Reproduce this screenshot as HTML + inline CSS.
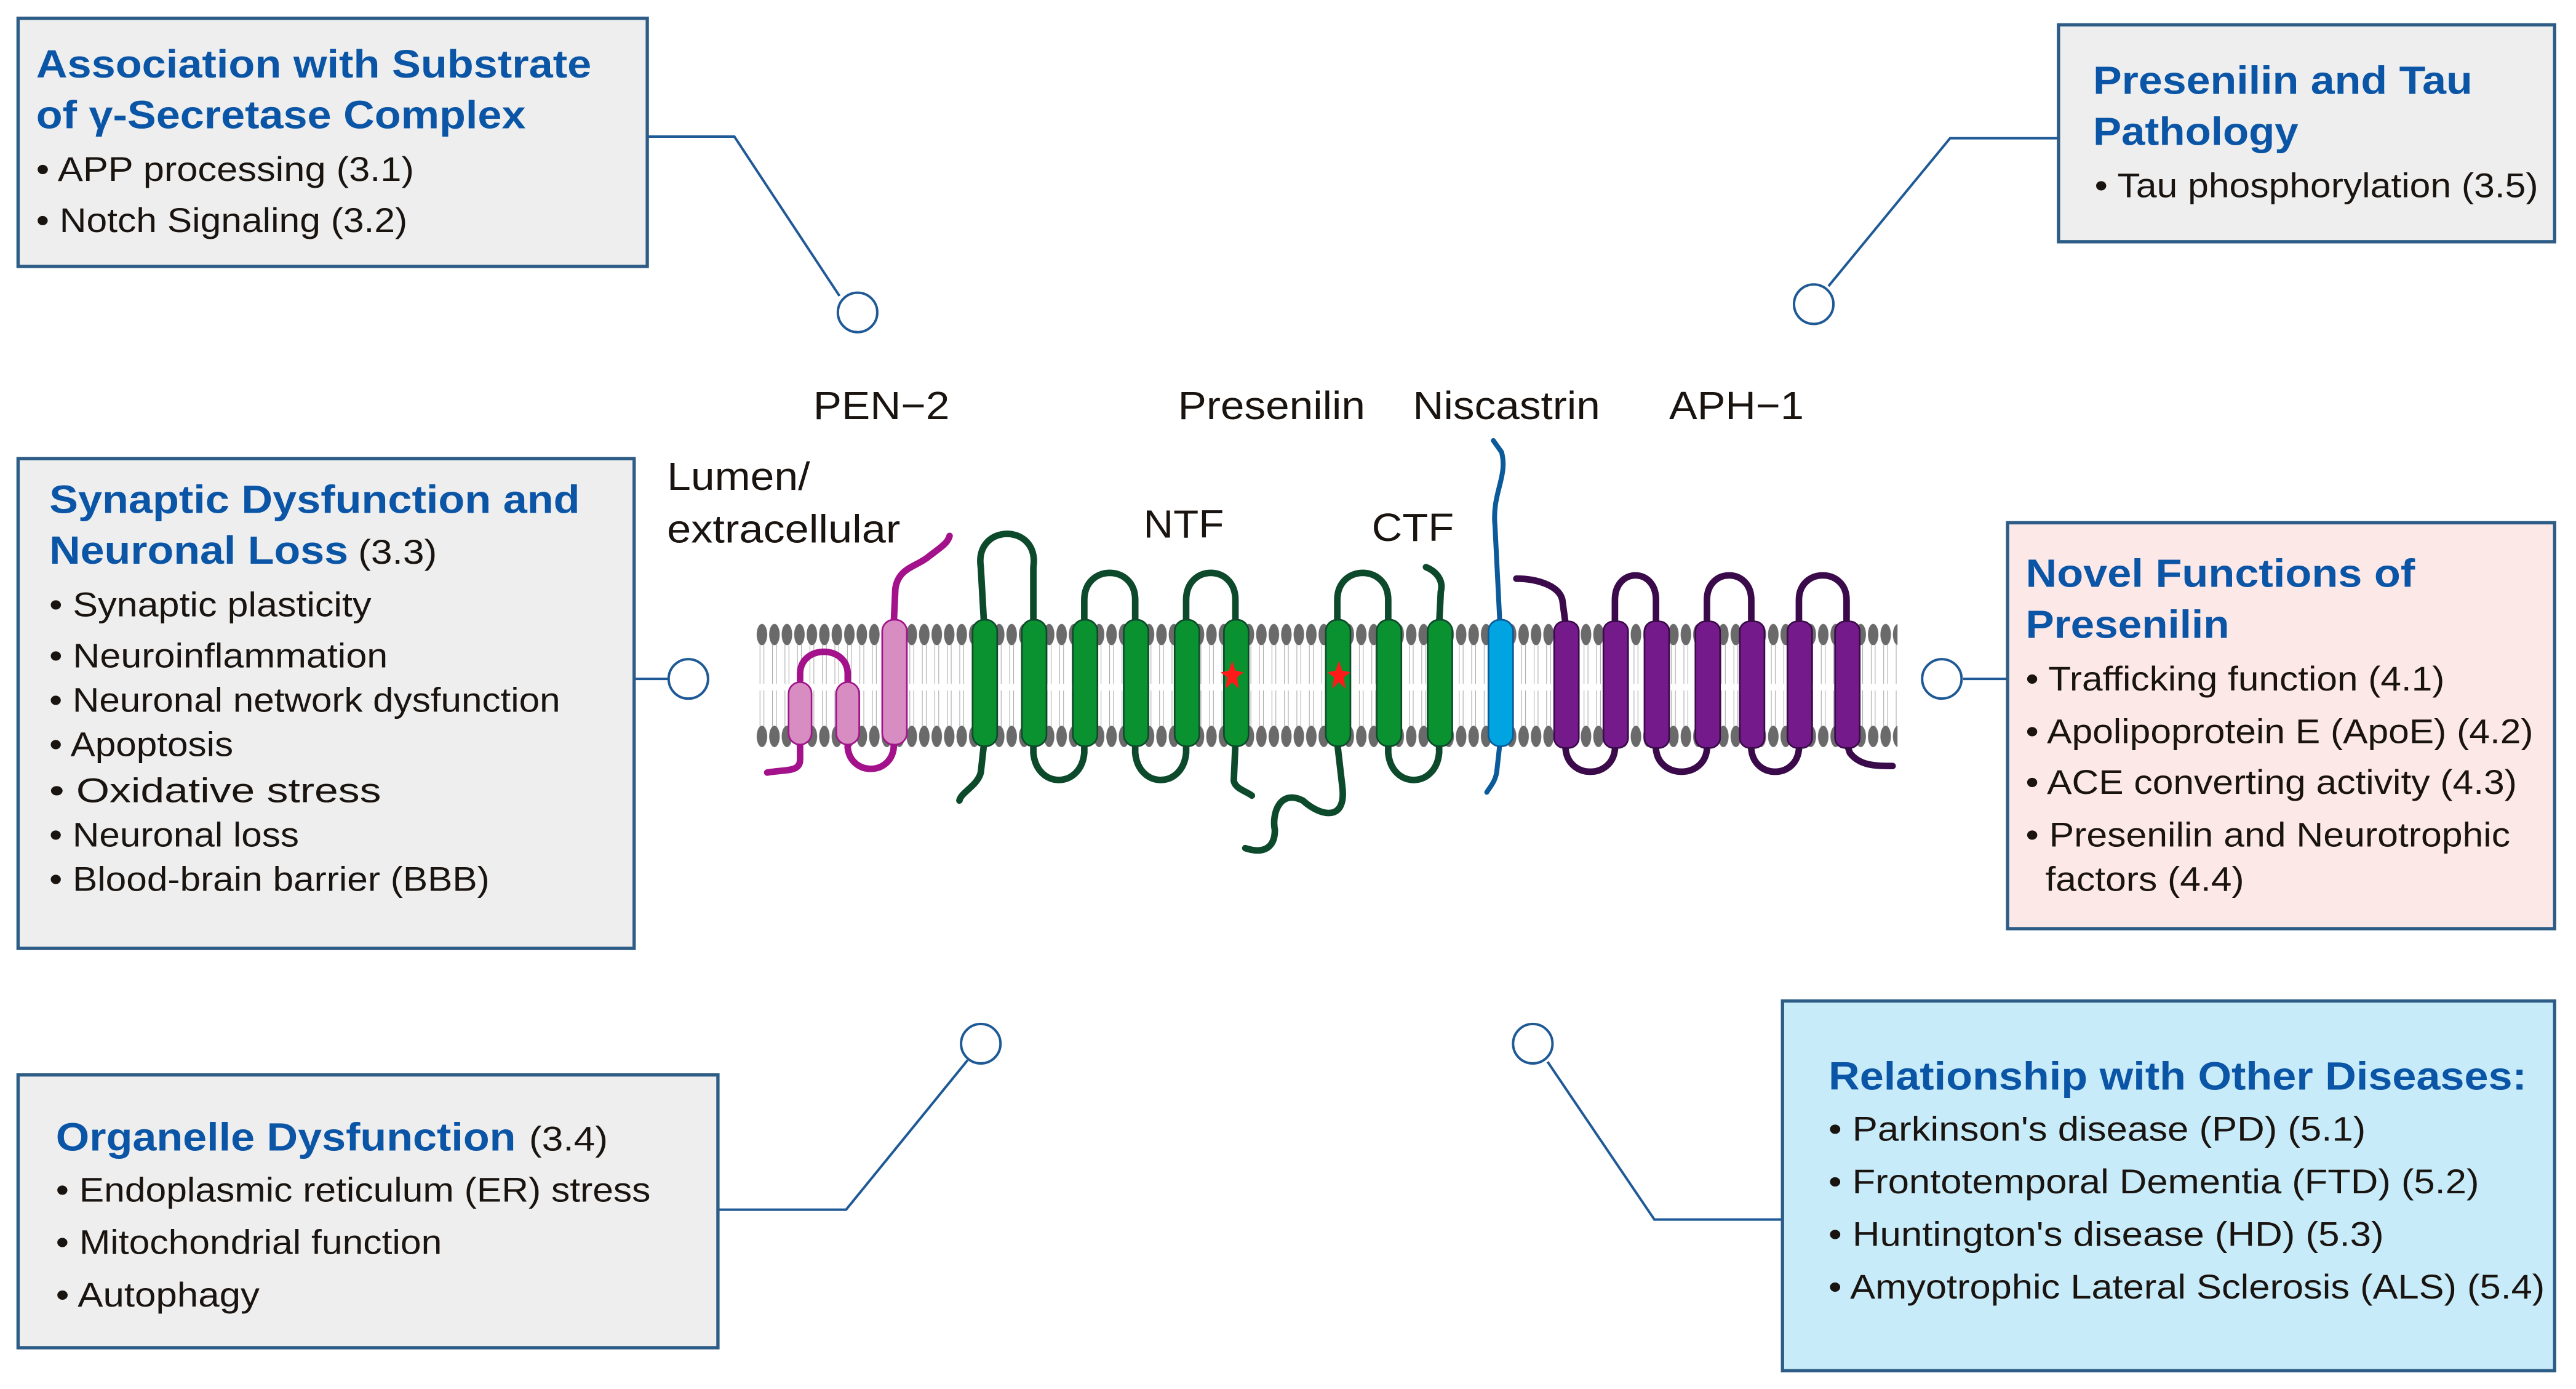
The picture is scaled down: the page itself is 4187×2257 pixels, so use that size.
<!DOCTYPE html>
<html><head><meta charset="utf-8"><style>html,body{margin:0;padding:0;background:#fff}svg{display:block}</style></head>
<body>
<svg width="4187" height="2257" viewBox="0 0 1568 845" xmlns="http://www.w3.org/2000/svg" font-family="'Liberation Sans', sans-serif">
<defs>
<pattern id="mem" patternUnits="userSpaceOnUse" x="460" y="378" width="7.6" height="80">
<ellipse cx="3.8" cy="8" rx="3.2" ry="6.5" fill="#6a6a6a"/>
<ellipse cx="3.8" cy="70" rx="3.2" ry="6.5" fill="#6a6a6a"/>
<path d="M2.6 14 L2.6 38 M5 14 L5 38 M2.6 42 L2.6 64 M5 42 L5 64" stroke="#a8a8a8" stroke-width="0.4" fill="none"/>
</pattern>
</defs>
<rect width="1568" height="845" fill="#fff"/>

<!-- connectors -->
<g stroke="#1f5a96" stroke-width="1.5" fill="none">
<polyline points="394,83 447,83 511,180"/>
<circle cx="522" cy="190" r="12" fill="#fff"/>
<polyline points="1253,84 1187,84 1113,174"/>
<circle cx="1104" cy="185" r="12" fill="#fff"/>
<line x1="386" y1="413" x2="407" y2="413"/>
<circle cx="419" cy="413" r="12" fill="#fff"/>
<line x1="1195" y1="413" x2="1222" y2="413"/>
<circle cx="1182" cy="413" r="12" fill="#fff"/>
<polyline points="437,736 515,736 589,645"/>
<circle cx="597" cy="635" r="12" fill="#fff"/>
<polyline points="1085,742 1007,742 942,646"/>
<circle cx="933" cy="635" r="12" fill="#fff"/>
</g>

<!-- boxes -->
<g stroke="#2d5c86" stroke-width="2">
<rect x="11" y="11" width="383" height="151" fill="#eeeeee"/>
<rect x="1253" y="15" width="302" height="132" fill="#eeeeee"/>
<rect x="11" y="279" width="375" height="298" fill="#eeeeee"/>
<rect x="1222" y="318" width="333" height="247" fill="#fde8e8"/>
<rect x="11" y="654" width="426" height="166" fill="#eeeeee"/>
<rect x="1085" y="609" width="470" height="225" fill="#c8ebfa"/>
</g>

<g fill="#0b55a6" font-weight="bold" font-size="24" lengthAdjust="spacingAndGlyphs">
<text x="22" y="47" textLength="338" lengthAdjust="spacingAndGlyphs">Association with Substrate</text>
<text x="22" y="78" textLength="298" lengthAdjust="spacingAndGlyphs">of γ-Secretase Complex</text>
<text x="1274" y="57" textLength="231" lengthAdjust="spacingAndGlyphs">Presenilin and Tau</text>
<text x="1274" y="88" textLength="125" lengthAdjust="spacingAndGlyphs">Pathology</text>
<text x="30" y="312" textLength="323" lengthAdjust="spacingAndGlyphs">Synaptic Dysfunction and</text>
<text x="30" y="343" textLength="182" lengthAdjust="spacingAndGlyphs">Neuronal Loss</text>
<text x="1233" y="357" textLength="237" lengthAdjust="spacingAndGlyphs">Novel Functions of</text>
<text x="1233" y="388" textLength="124" lengthAdjust="spacingAndGlyphs">Presenilin</text>
<text x="34" y="700" textLength="280" lengthAdjust="spacingAndGlyphs">Organelle Dysfunction</text>
<text x="1113" y="663" textLength="425" lengthAdjust="spacingAndGlyphs">Relationship with Other Diseases:</text>
</g>

<g fill="#1a1410" font-size="21">
<text x="218" y="343" textLength="48" lengthAdjust="spacingAndGlyphs">(3.3)</text>
<text x="322" y="700" textLength="48" lengthAdjust="spacingAndGlyphs">(3.4)</text>
<text x="22" y="110" textLength="230" lengthAdjust="spacingAndGlyphs">• APP processing (3.1)</text>
<text x="22" y="141" textLength="226" lengthAdjust="spacingAndGlyphs">• Notch Signaling (3.2)</text>
<text x="1275" y="120" textLength="270" lengthAdjust="spacingAndGlyphs">• Tau phosphorylation (3.5)</text>
<text x="30" y="375" textLength="196" lengthAdjust="spacingAndGlyphs">• Synaptic plasticity</text>
<text x="30" y="406" textLength="206" lengthAdjust="spacingAndGlyphs">• Neuroinflammation</text>
<text x="30" y="433" textLength="311" lengthAdjust="spacingAndGlyphs">• Neuronal network dysfunction</text>
<text x="30" y="460" textLength="112" lengthAdjust="spacingAndGlyphs">• Apoptosis</text>
<text x="30" y="488" textLength="202" lengthAdjust="spacingAndGlyphs">• Oxidative stress</text>
<text x="30" y="515" textLength="152" lengthAdjust="spacingAndGlyphs">• Neuronal loss</text>
<text x="30" y="542" textLength="268" lengthAdjust="spacingAndGlyphs">• Blood-brain barrier (BBB)</text>
<text x="1233" y="420" textLength="255" lengthAdjust="spacingAndGlyphs">• Trafficking function (4.1)</text>
<text x="1233" y="452" textLength="309" lengthAdjust="spacingAndGlyphs">• Apolipoprotein E (ApoE) (4.2)</text>
<text x="1233" y="483" textLength="299" lengthAdjust="spacingAndGlyphs">• ACE converting activity (4.3)</text>
<text x="1233" y="515" textLength="295" lengthAdjust="spacingAndGlyphs">• Presenilin and Neurotrophic</text>
<text x="1245" y="542" textLength="121" lengthAdjust="spacingAndGlyphs">factors (4.4)</text>
<text x="34" y="731" textLength="362" lengthAdjust="spacingAndGlyphs">• Endoplasmic reticulum (ER) stress</text>
<text x="34" y="763" textLength="235" lengthAdjust="spacingAndGlyphs">• Mitochondrial function</text>
<text x="34" y="795" textLength="124" lengthAdjust="spacingAndGlyphs">• Autophagy</text>
<text x="1113" y="694" textLength="327" lengthAdjust="spacingAndGlyphs">•  Parkinson's disease (PD) (5.1)</text>
<text x="1113" y="726" textLength="396" lengthAdjust="spacingAndGlyphs">•  Frontotemporal Dementia (FTD) (5.2)</text>
<text x="1113" y="758" textLength="338" lengthAdjust="spacingAndGlyphs">•  Huntington's disease (HD) (5.3)</text>
<text x="1113" y="790" textLength="436" lengthAdjust="spacingAndGlyphs">•  Amyotrophic Lateral Sclerosis (ALS) (5.4)</text>
</g>

<g fill="#1a1410" font-size="24">
<text x="495" y="255" textLength="83" lengthAdjust="spacingAndGlyphs">PEN−2</text>
<text x="717" y="255" textLength="114" lengthAdjust="spacingAndGlyphs">Presenilin</text>
<text x="860" y="255" textLength="114" lengthAdjust="spacingAndGlyphs">Niscastrin</text>
<text x="1016" y="255" textLength="82" lengthAdjust="spacingAndGlyphs">APH−1</text>
<text x="406" y="298" textLength="87" lengthAdjust="spacingAndGlyphs">Lumen/</text>
<text x="406" y="330" textLength="142" lengthAdjust="spacingAndGlyphs">extracellular</text>
<text x="696" y="327" textLength="49" lengthAdjust="spacingAndGlyphs">NTF</text>
<text x="835" y="329" textLength="50" lengthAdjust="spacingAndGlyphs">CTF</text>
</g>

<!-- membrane -->
<rect x="460" y="378" width="695" height="80" fill="url(#mem)"/>

<!-- loops -->
<g fill="none" stroke-linecap="round" stroke-width="4">
<g stroke="#a3128a">
<path d="M487 420 L487 410 C487 392 516 392 516 410 L516 420"/>
<path d="M487 452 L487 462 C487 470 478 468 467 470"/>
<path d="M516 452 L516 455 C518 472 542 472 544 455 L544 452"/>
<path d="M544 380 L545 358 C547 345 558 345 566 338 C574 332 577 330 578 326"/>
</g>
<g stroke="#0d4a2c">
<path d="M599 380 L597 345 C593 318 633 318 629 345 L629 380"/>
<path d="M660 380 L660 365 C660 343 691 343 691 365 L691 380"/>
<path d="M722 380 L722 365 C722 343 752 343 752 365 L752 380"/>
<path d="M814 380 L814 365 C814 343 845 343 845 365 L845 380"/>
<path d="M876 380 L877 360 C879 352 873 347 868 345"/>
<path d="M629 452 L629 458 C631 480 658 480 660 458 L660 452"/>
<path d="M691 452 L691 458 C693 480 720 480 722 458 L722 452"/>
<path d="M845 452 L845 458 C847 480 874 480 876 458 L876 452"/>
<path d="M599 452 L597 470 C595 478 585 482 584 487"/>
<path d="M752 452 L751 475 C752 480 758 481 762 484"/>
<path d="M814 452 L817 478 C820 500 804 497 793 487 C779 480 774 495 776 505 C776 515 770 520 758 516"/>
</g>
<g stroke="#0b5a9a" stroke-width="3">
<path d="M913 380 L910 320 C908 300 918 290 914 275 L909 268"/>
<path d="M913 452 L911 470 C910 476 906 480 905 482"/>
</g>
<g stroke="#3a0a4a">
<path d="M953 380 L951 365 C949 356 935 352 923 352"/>
<path d="M983 380 L983 365 C983 345 1008 345 1008 365 L1008 380"/>
<path d="M1039 380 L1039 365 C1039 345 1066 345 1066 365 L1066 380"/>
<path d="M1095 380 L1095 365 C1095 345 1124 345 1124 365 L1124 380"/>
<path d="M953 452 L953 456 C955 474 981 474 983 456 L983 452"/>
<path d="M1008 452 L1008 456 C1010 474 1037 474 1039 456 L1039 452"/>
<path d="M1066 452 L1066 456 C1068 474 1093 474 1095 456 L1095 452"/>
<path d="M1124 452 L1126 458 C1132 466 1142 466 1152 466"/>
</g>
</g>

<!-- helices -->
<g stroke-width="1">
<g fill="#d78cc2" stroke="#a3128a">
<rect x="480" y="415" width="14" height="38" rx="7"/>
<rect x="509" y="415" width="14" height="38" rx="7"/>
<rect x="537" y="377" width="15" height="76" rx="7"/>
</g>
<g fill="#0a9130" stroke="#0d4a2c">
<rect x="592" y="377" width="15" height="77" rx="7"/>
<rect x="622" y="377" width="15" height="77" rx="7"/>
<rect x="653" y="377" width="15" height="77" rx="7"/>
<rect x="684" y="377" width="15" height="77" rx="7"/>
<rect x="715" y="377" width="15" height="77" rx="7"/>
<rect x="745" y="377" width="15" height="77" rx="7"/>
<rect x="807" y="377" width="15" height="77" rx="7"/>
<rect x="838" y="377" width="15" height="77" rx="7"/>
<rect x="869" y="377" width="15" height="77" rx="7"/>
</g>
<rect x="906" y="377" width="15" height="77" rx="7" fill="#00a4e0" stroke="#0b5a9a"/>
<g fill="#741a8a" stroke="#3a0a4a">
<rect x="946" y="378" width="15" height="77" rx="6"/>
<rect x="976" y="378" width="15" height="77" rx="6"/>
<rect x="1001" y="378" width="15" height="77" rx="6"/>
<rect x="1032" y="378" width="15" height="77" rx="6"/>
<rect x="1059" y="378" width="15" height="77" rx="6"/>
<rect x="1088" y="378" width="15" height="77" rx="6"/>
<rect x="1117" y="378" width="15" height="77" rx="6"/>
</g>
</g>
<g fill="#ff1a1a">
<path d="M750 402 L752 408 L757 409 L753 412 L754 419 L750 415 L746 419 L747 412 L743 409 L748 408Z"/>
<path d="M815 402 L817 408 L822 409 L818 412 L819 419 L815 415 L811 419 L812 412 L808 409 L813 408Z"/>
</g>
</svg>
</body></html>
